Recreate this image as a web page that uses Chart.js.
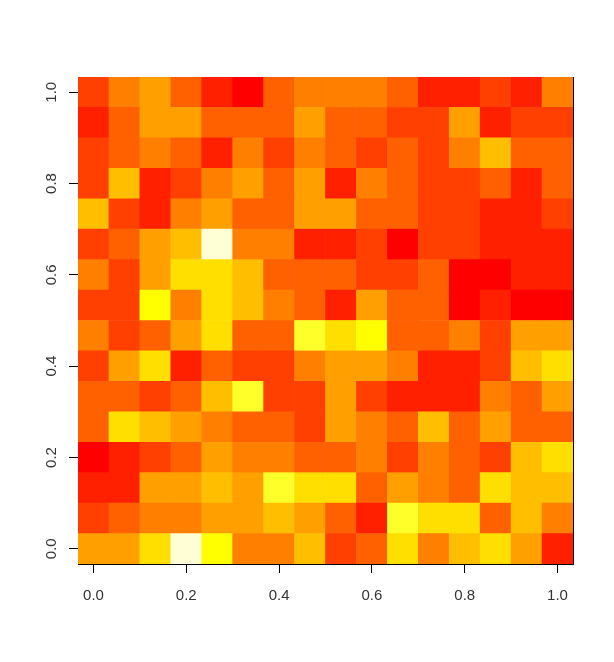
<!DOCTYPE html>
<html>
<head>
<meta charset="utf-8">
<title>Heat map</title>
<script src="https://cdn.jsdelivr.net/npm/chart.js@4/dist/chart.umd.js"></script>
<style>
  html, body { margin: 0; padding: 0; background: #fff; }
  #wrap { width: 614px; height: 662px; }
</style>
</head>
<body>
<div id="wrap"><canvas id="heat"></canvas></div>
<script>
// heat.colors(12), low to high
const palette = ['#FF0000', '#FF2000', '#FF4000', '#FF6000', '#FF8000', '#FF9F00',
  '#FFBF00', '#FFDF00', '#FFFF00', '#FFFF2A', '#FFFF80', '#FFFFD5'];

const xTicks = [0, 0.2, 0.4, 0.6, 0.8, 1];
const yTicks = [0, 0.2, 0.4, 0.6, 0.8, 1];

// colour level of each cell, rows listed from the top of the plot
const row16 = [2, 4, 5, 3, 1, 0, 3, 4, 4, 4, 3, 1, 1, 2, 1, 4];
const row15 = [1, 3, 5, 5, 3, 3, 3, 5, 3, 3, 2, 2, 5, 1, 2, 2];
const row14 = [2, 3, 4, 3, 1, 4, 2, 4, 3, 2, 3, 2, 4, 6, 3, 3];
const row13 = [2, 6, 1, 2, 4, 5, 3, 5, 1, 4, 3, 2, 2, 3, 1, 3];
const row12 = [6, 2, 1, 4, 5, 3, 3, 5, 5, 3, 3, 2, 2, 1, 1, 2];
const row11 = [2, 3, 5, 6, 11, 4, 4, 1, 1, 2, 0, 2, 2, 1, 1, 1];
const row10 = [4, 2, 5, 7, 7, 6, 3, 3, 3, 2, 2, 3, 0, 0, 1, 1];
const row09 = [2, 2, 8, 4, 7, 6, 4, 3, 1, 5, 3, 3, 0, 1, 0, 0];
const row08 = [4, 2, 3, 5, 7, 3, 3, 9, 7, 8, 3, 3, 4, 2, 5, 5];
const row07 = [2, 5, 7, 1, 3, 2, 2, 4, 5, 5, 4, 1, 1, 2, 6, 7];
const row06 = [3, 3, 2, 3, 6, 9, 2, 2, 5, 2, 1, 1, 1, 4, 3, 5];
const row05 = [3, 7, 6, 5, 4, 3, 3, 2, 5, 4, 3, 6, 3, 5, 3, 3];
const row04 = [0, 1, 2, 3, 5, 4, 4, 3, 3, 4, 2, 4, 3, 2, 6, 7];
const row03 = [1, 1, 5, 5, 6, 5, 9, 7, 7, 3, 5, 4, 3, 7, 6, 6];
const row02 = [2, 3, 4, 4, 5, 5, 6, 5, 3, 1, 9, 7, 7, 3, 6, 4];
const row01 = [5, 5, 7, 11, 8, 4, 4, 6, 2, 3, 7, 4, 6, 7, 5, 1];

const rows = [row01, row02, row03, row04, row05, row06, row07, row08,
  row09, row10, row11, row12, row13, row14, row15, row16];

const step = 1 / 15;

const datasets = rows.map((levels, r) => ({
  data: levels.map((level, c) => ({ x: c * step, y: [(r - 0.5) * step, (r + 0.5) * step] })),
  backgroundColor: levels.map((level) => palette[level]),
  borderWidth: 0,
  barPercentage: 1,
  categoryPercentage: 1,
  grouped: false
}));

const tickFont = { family: '"Liberation Sans", Arial, sans-serif', size: 15 };

new Chart(document.getElementById('heat'), {
  type: 'bar',
  data: { datasets },
  options: {
    responsive: true,
    maintainAspectRatio: false,
    animation: false,
    layout: { padding: { top: 77, left: 0, right: 0, bottom: 0 } },
    plugins: { legend: { display: false }, tooltip: { enabled: false } },
    scales: {
      x: {
        type: 'linear',
        offset: false,
        min: -step / 2,
        max: 1 + step / 2,
        afterBuildTicks: (scale) => { scale.ticks = xTicks.map((value) => ({ value })); },
        afterFit: (scale) => { scale.height = 98; },
        border: { display: true, color: '#000', width: 1 },
        grid: { offset: false, drawOnChartArea: false, drawTicks: true, tickLength: 9, tickColor: '#000' },
        ticks: { color: '#333', font: tickFont, padding: 14, maxRotation: 0, autoSkip: false, callback: (v) => v.toFixed(1) }
      },
      y: {
        type: 'linear',
        position: 'left',
        min: -step / 2,
        max: 1 + step / 2,
        afterBuildTicks: (scale) => { scale.ticks = yTicks.map((value) => ({ value })); },
        afterCalculateLabelRotation: (scale) => { scale.labelRotation = 90; },
        afterFit: (scale) => { scale.width = 78; },
        border: { display: false },
        grid: { drawOnChartArea: false, drawTicks: true, tickLength: 9, tickColor: '#000' },
        ticks: { color: '#333', font: tickFont, padding: 7, crossAlign: 'center', autoSkip: false, callback: (v) => v.toFixed(1) }
      },
      right: {
        type: 'linear',
        position: 'right',
        display: true,
        min: 0,
        max: 1,
        afterFit: (scale) => { scale.width = 41; },
        border: { display: true, color: '#000', width: 1 },
        grid: { display: false },
        ticks: { display: false }
      }
    }
  }
});
</script>
</body>
</html>
